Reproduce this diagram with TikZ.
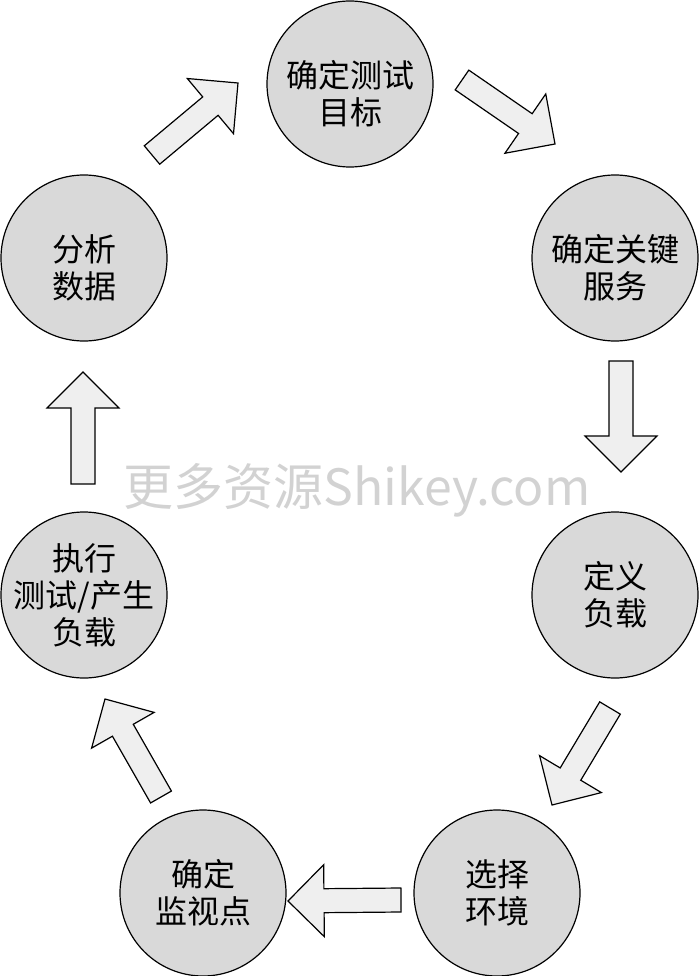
\documentclass[tikz,border=0pt]{standalone}
\usepackage{fontspec}
\setmainfont{Noto Sans CJK SC}
\usetikzlibrary{calc}
\definecolor{stagefill}{HTML}{D9D9D9}
\definecolor{arrowfill}{HTML}{EFEFEF}
\tikzset{
  txt/.style={align=center, font=\fontsize{32pt}{37pt}\selectfont},
  disc/.style={circle, draw, line width=1.2pt, fill=stagefill,
    minimum size=166pt, inner sep=0pt},
  stage/.style={disc, label={[txt]center:#1}},
  stagelow/.style={disc, label={[txt, yshift=-10pt]center:#1}},
  bigarrow/.style={draw, line width=1.2pt, fill=arrowfill, line join=miter},
  wmtext/.style={font=\fontsize{50pt}{50pt}\selectfont, text=gray!35},
}
\newcommand\blockarrow[2]{%
  \coordinate (tail) at (#1);
  \coordinate (tip) at (#2);
  \coordinate (neck) at ($(tip)!36pt!(tail)$);
  \draw[bigarrow] ($(tail)!12pt!90:(tip)$) -- ($(neck)!12pt!90:(tip)$)
    -- ($(neck)!36pt!90:(tip)$) -- (tip) -- ($(neck)!36pt!-90:(tip)$)
    -- ($(neck)!12pt!-90:(tip)$) -- ($(tail)!12pt!-90:(tip)$) -- cycle;
}
\begin{document}
\begin{tikzpicture}[x=1pt, y=-1pt]
  \useasboundingbox (0,0) rectangle (700,976);
  \node[stagelow={确定测试\\目标}] (T) at (350,84) {};
  \node[stagelow={确定关键\\服务}] (R1) at (615,258) {};
  \node[stage={定义\\负载}] (R2) at (615,595) {};
  \node[stage={选择\\环境}] (BR) at (497,893) {};
  \node[stage={确定\\监视点}] (BL) at (203,893) {};
  \node[stage={执行\\测试/产生\\负载}] (L2) at (84,595) {};
  \node[stagelow={分析\\数据}] (L1) at (84,258) {};

  \blockarrow{$(L1.center)+(68,-103)$}{$(T.center)+(-112,-1)$}
  \blockarrow{$(T.center)+(112,-4)$}{$(R1.center)+(-60,-114)$}
  \blockarrow{$(R1.center)+(6,103)$}{$(R2.center)+(6,-123)$}
  \blockarrow{$(R2.center)+(-5,113)$}{$(BR.center)+(55,-88)$}
  \blockarrow{$(BR.center)+(-96,7)$}{$(BL.center)+(85,8)$}
  \blockarrow{$(BL.center)+(-42,-96)$}{$(L2.center)+(21,104)$}
  \blockarrow{$(L2.center)+(-1,-111)$}{$(L1.center)+(-1,114)$}

  % watermark
  \node[wmtext] (wm) at (357,490) {更多资源Shikey.com};
\end{tikzpicture}
\end{document}
